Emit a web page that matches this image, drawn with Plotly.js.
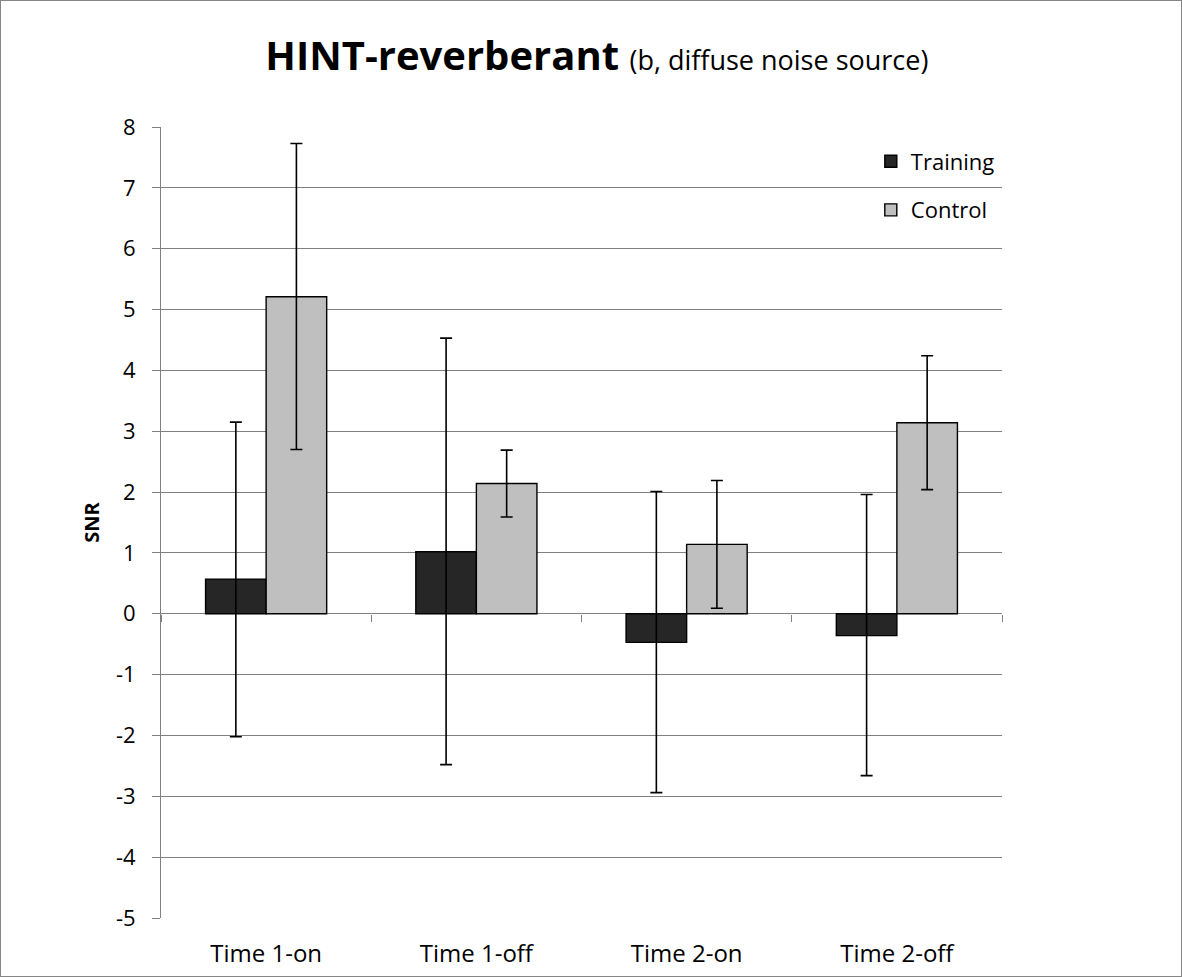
<!DOCTYPE html>
<html>
<head>
<meta charset="utf-8">
<script src="https://cdn.plot.ly/plotly-3.0.1.min.js"></script>
<style>
  html, body { margin: 0; padding: 0; background: #fff; }
  #wrap { width: 1182px; height: 977px; box-sizing: border-box; border: 1px solid #868686; }
  #chart { width: 1180px; height: 975px; }
</style>
</head>
<body>
<div id="wrap"><div id="chart"></div></div>
<script>
const categories = ["Time 1-on", "Time 1-off", "Time 2-on", "Time 2-off"];
const trainingValues = [0.57, 1.02, -0.47, -0.36];
const trainingErrPlus = [2.58, 3.51, 2.48, 2.32];
const trainingErrMinus = [2.59, 3.50, 2.47, 2.30];
const controlValues = [5.21, 2.14, 1.14, 3.14];
const controlErrPlus = [2.52, 0.55, 1.05, 1.10];
const controlErrMinus = [2.51, 0.55, 1.05, 1.10];
const yTicks = [-5, -4, -3, -2, -1, 0, 1, 2, 3, 4, 5, 6, 7, 8];
const yTickLabels = ["-5", "-4", "-3", "-2", "-1", "0", "1", "2", "3", "4", "5", "6", "7", "8"];

const FONT = "Open Sans, Noto Sans, sans-serif";
const GRID = "#808080";

const errStyle = { type: "data", symmetric: false, color: "#000", thickness: 1.6, width: 6 };

const traces = [
  {
    type: "bar", name: "Training", x: categories, y: trainingValues, legendgroup: "a",
    marker: { color: "#262626", line: { color: "#000", width: 1.4 } },
    error_y: Object.assign({}, errStyle, { array: trainingErrPlus, arrayminus: trainingErrMinus })
  },
  {
    type: "bar", name: "Control", x: categories, y: controlValues, legendgroup: "b",
    marker: { color: "#bfbfbf", line: { color: "#000", width: 1.4 } },
    error_y: Object.assign({}, errStyle, { array: controlErrPlus, arrayminus: controlErrMinus })
  }
];

// invisible helper trace so the category-boundary tick axis at y=0 is drawn
traces.push({ type: "scatter", x: [0], y: [0], xaxis: "x2", yaxis: "y", mode: "markers",
  marker: { opacity: 0 }, showlegend: false, hoverinfo: "skip" });

const layout = {
  width: 1180, height: 975,
  margin: { l: 160, r: 179, t: 126, b: 58 },
  paper_bgcolor: "#fff", plot_bgcolor: "#fff",
  font: { family: FONT, size: 22, color: "#000" },
  barmode: "group", bargap: 0.424, bargroupgap: 0,
  showlegend: true,
  title: {
    text: "<b>HINT-reverberant</b> <span style='font-size:27px'>(b, diffuse noise source)</span>",
    font: { family: FONT, size: 40, color: "#000" },
    x: 0.505, xanchor: "center", y: 0.944, yanchor: "middle"
  },
  legend: {
    x: 0.844, y: 0.983, xanchor: "left", yanchor: "top",
    bgcolor: "rgba(0,0,0,0)", font: { family: FONT, size: 22 },
    traceorder: "grouped", tracegroupgap: 17, itemwidth: 30
  },
  xaxis: {
    type: "category", showgrid: false, zeroline: false,
    showline: false, ticks: "", tickfont: { size: 24 }, ticklabelstandoff: 19
  },
  xaxis2: {
    overlaying: "x", anchor: "free", position: 5 / 13,
    type: "linear", range: [-0.5, 3.5],
    tickmode: "array", tickvals: [-0.5, 0.5, 1.5, 2.5, 3.5],
    ticks: "outside", ticklen: 7, tickcolor: GRID, tickwidth: 1,
    showticklabels: false, showgrid: false, zeroline: false, showline: false
  },
  yaxis: {
    range: [-5, 8], tickmode: "array", tickvals: yTicks, ticktext: yTickLabels,
    showgrid: true, gridcolor: GRID, gridwidth: 1,
    zeroline: false, showline: true, linecolor: GRID, linewidth: 1,
    ticks: "outside", ticklen: 8, tickcolor: GRID, tickwidth: 1,
    tickfont: { size: 22 }, ticklabelstandoff: 12,
    title: { text: "<b>SNR</b>", font: { size: 20 }, standoff: 10 }
  }
};

Plotly.newPlot("chart", traces, layout, { displayModeBar: false, staticPlot: true });
</script>
</body>
</html>
